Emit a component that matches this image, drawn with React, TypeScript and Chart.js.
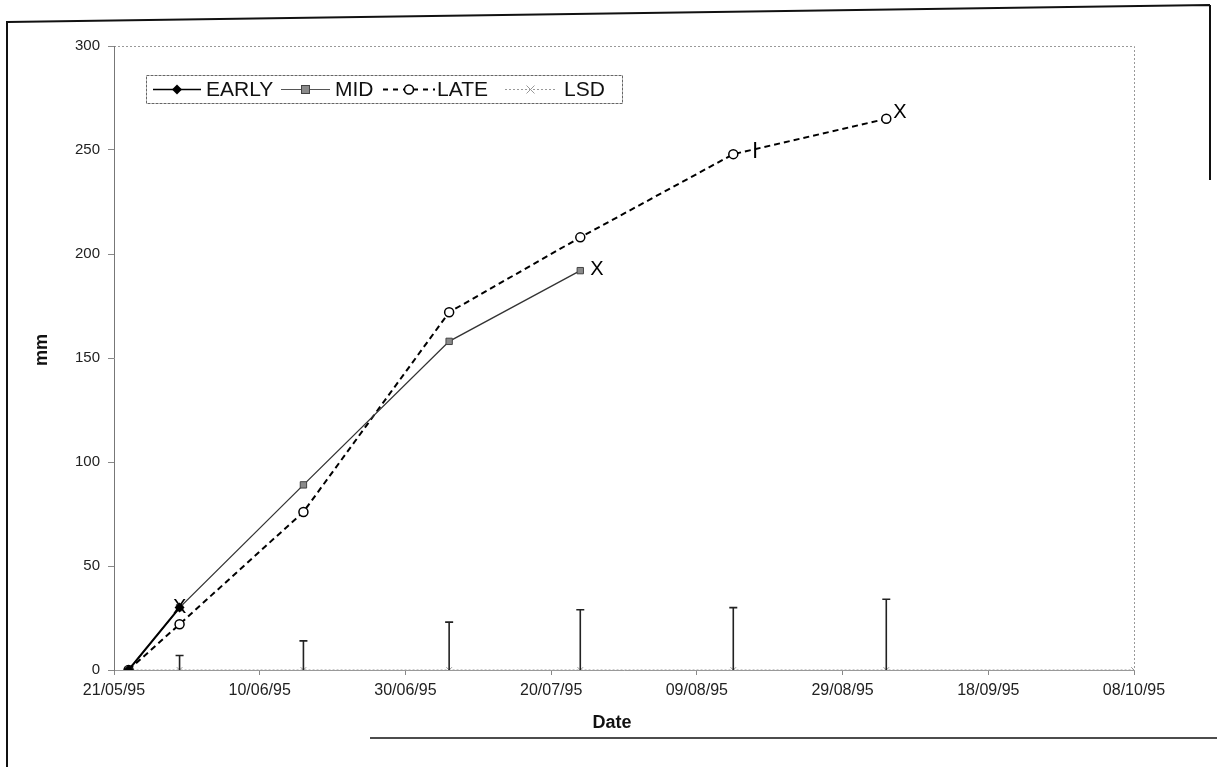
import React, { useEffect, useRef } from "react";
import { Chart, registerables } from "chart.js";
Chart.register(...registerables);

// ---- axis definitions ----
const X_START = "21/05/95";
const X_END = "08/10/95";
const X_STEP_DAYS = 20;
const Y_MIN = 0;
const Y_MAX = 300;
const Y_STEP = 50;
const X_TITLE = "Date";
const Y_TITLE = "mm";

// ---- series ----
const EARLY_DATES = ["23/05/95", "30/05/95"];
const EARLY_VALUES = [0, 30];

const MID_DATES = ["23/05/95", "30/05/95", "16/06/95", "06/07/95", "24/07/95"];
const MID_VALUES = [0, 30, 89, 158, 192];

const LATE_DATES = ["23/05/95", "30/05/95", "16/06/95", "06/07/95", "24/07/95", "14/08/95", "04/09/95"];
const LATE_VALUES = [0, 22, 76, 172, 208, 248, 265];

const LSD_DATES = ["23/05/95", "30/05/95", "16/06/95", "06/07/95", "24/07/95", "14/08/95", "04/09/95", "08/10/95"];
const LSD_VALUES = [0, 0, 0, 0, 0, 0, 0, 0];
const LSD_BARS = [0, 7, 14, 23, 29, 30, 34, 0];

const SERIES_NAMES = ["EARLY", "MID", "LATE", "LSD"];

// end-of-series marks ("X") and the bar mark on LATE
const END_MARK_TEXT = "X";
const END_MARK_SERIES = ["EARLY", "MID", "LATE"];
const LATE_MARK_DATE = "17/08/95";
const LATE_MARK_VALUE = 250;

const FONT = "'Liberation Sans', Arial, Helvetica, sans-serif";

function toDate(s: string) {
  const [d, m, y] = s.split("/").map(Number);
  return Date.UTC(1900 + y, m - 1, d);
}
const BASE = toDate(X_START);
function dayOf(s: string) {
  return Math.round((toDate(s) - BASE) / 86400000);
}
function fmtDay(v: number) {
  const dt = new Date(BASE + v * 86400000);
  const dd = String(dt.getUTCDate()).padStart(2, "0");
  const mm = String(dt.getUTCMonth() + 1).padStart(2, "0");
  const yy = String(dt.getUTCFullYear() % 100).padStart(2, "0");
  return `${dd}/${mm}/${yy}`;
}
function pts(dates: string[], vals: number[]) {
  return dates.map((d, i) => ({ x: dayOf(d), y: vals[i] }));
}

function drawMarker(ctx: CanvasRenderingContext2D, kind: string, x: number, y: number) {
  ctx.save();
  ctx.setLineDash([]);
  if (kind === "EARLY") {
    ctx.fillStyle = "#000";
    ctx.beginPath();
    ctx.moveTo(x, y - 5);
    ctx.lineTo(x + 5, y);
    ctx.lineTo(x, y + 5);
    ctx.lineTo(x - 5, y);
    ctx.closePath();
    ctx.fill();
  } else if (kind === "MID") {
    ctx.fillStyle = "#8a8a8a";
    ctx.strokeStyle = "#444";
    ctx.lineWidth = 1;
    ctx.fillRect(x - 4, y - 4, 8, 8);
    ctx.strokeRect(x - 4, y - 4, 8, 8);
  } else if (kind === "LATE") {
    ctx.fillStyle = "#fff";
    ctx.strokeStyle = "#000";
    ctx.lineWidth = 1.5;
    ctx.beginPath();
    ctx.arc(x, y, 4.5, 0, Math.PI * 2);
    ctx.fill();
    ctx.stroke();
  } else {
    ctx.strokeStyle = "#999";
    ctx.lineWidth = 1;
    ctx.beginPath();
    ctx.moveTo(x - 4, y - 4);
    ctx.lineTo(x + 4, y + 4);
    ctx.moveTo(x + 4, y - 4);
    ctx.lineTo(x - 4, y + 4);
    ctx.stroke();
  }
  ctx.restore();
}

const decor = {
  id: "decor",
  beforeDraw(chart: any) {
    const ctx = chart.ctx as CanvasRenderingContext2D;
    ctx.save();
    ctx.fillStyle = "#fff";
    ctx.fillRect(0, 0, chart.width, chart.height);
    // outer frame (scanned page border)
    ctx.strokeStyle = "#111";
    ctx.lineWidth = 2;
    ctx.beginPath();
    ctx.moveTo(7, 22);
    ctx.lineTo(1210, 5);
    ctx.moveTo(7, 21);
    ctx.lineTo(7, 767);
    ctx.moveTo(1210, 5);
    ctx.lineTo(1210, 180);
    ctx.stroke();
    ctx.lineWidth = 1.5;
    ctx.beginPath();
    ctx.moveTo(370, 738);
    ctx.lineTo(1217, 738);
    ctx.stroke();
    // plot area dotted border top/right
    const a = chart.chartArea;
    ctx.strokeStyle = "#999";
    ctx.lineWidth = 1;
    ctx.setLineDash([2, 2]);
    ctx.beginPath();
    ctx.moveTo(a.left, a.top + 0.5);
    ctx.lineTo(a.right + 0.5, a.top + 0.5);
    ctx.lineTo(a.right + 0.5, a.bottom);
    ctx.stroke();
    ctx.restore();
  },
  afterDatasetsDraw(chart: any) {
    const ctx = chart.ctx as CanvasRenderingContext2D;
    const xs = chart.scales.x;
    const ys = chart.scales.y;
    ctx.save();
    // LSD error bars
    ctx.strokeStyle = "#222";
    ctx.lineWidth = 1.6;
    LSD_DATES.forEach((d, i) => {
      if (!LSD_BARS[i]) return;
      const x = xs.getPixelForValue(dayOf(d));
      const y0 = ys.getPixelForValue(LSD_VALUES[i]);
      const y1 = ys.getPixelForValue(LSD_VALUES[i] + LSD_BARS[i]);
      ctx.beginPath();
      ctx.moveTo(x, y0);
      ctx.lineTo(x, y1);
      ctx.moveTo(x - 4, y1);
      ctx.lineTo(x + 4, y1);
      ctx.stroke();
    });
    // end marks
    ctx.fillStyle = "#000";
    ctx.font = `20px ${FONT}`;
    ctx.textBaseline = "middle";
    const seriesData: Record<string, [string[], number[]]> = {
      EARLY: [EARLY_DATES, EARLY_VALUES],
      MID: [MID_DATES, MID_VALUES],
      LATE: [LATE_DATES, LATE_VALUES],
    };
    END_MARK_SERIES.forEach((s) => {
      const [ds, vs] = seriesData[s];
      const n = ds.length - 1;
      const x = xs.getPixelForValue(dayOf(ds[n]));
      const y = ys.getPixelForValue(vs[n]);
      if (s === "EARLY") {
        ctx.textAlign = "center";
        ctx.fillText(END_MARK_TEXT, x, y);
      } else if (s === "MID") {
        ctx.textAlign = "left";
        ctx.fillText(END_MARK_TEXT, x + 10, y - 1);
      } else {
        ctx.textAlign = "left";
        ctx.fillText(END_MARK_TEXT, x + 7, y - 6);
      }
    });
    // bar mark on LATE
    const mx = xs.getPixelForValue(dayOf(LATE_MARK_DATE));
    const my = ys.getPixelForValue(LATE_MARK_VALUE);
    ctx.strokeStyle = "#000";
    ctx.lineWidth = 2;
    ctx.beginPath();
    ctx.moveTo(mx, my - 8);
    ctx.lineTo(mx, my + 8);
    ctx.stroke();
    ctx.restore();
  },
  afterDraw(chart: any) {
    const ctx = chart.ctx as CanvasRenderingContext2D;
    ctx.save();
    // axis titles
    ctx.fillStyle = "#111";
    ctx.font = `bold 18px ${FONT}`;
    ctx.textAlign = "center";
    ctx.textBaseline = "middle";
    ctx.fillText(X_TITLE, 612, 723);
    ctx.translate(42, 350);
    ctx.rotate(-Math.PI / 2);
    ctx.fillText(Y_TITLE, 0, 0);
    ctx.restore();

    // legend box
    ctx.save();
    const bx = 146, by = 75, bw = 476, bh = 28;
    ctx.strokeStyle = "#666";
    ctx.lineWidth = 1;
    ctx.setLineDash([3, 1]);
    ctx.strokeRect(bx + 0.5, by + 0.5, bw, bh);
    const cy = by + bh / 2 + 0.5;
    const items = [
      { x0: 153, x1: 201, tx: 206 },
      { x0: 281, x1: 330, tx: 335 },
      { x0: 383, x1: 435, tx: 437 },
      { x0: 505, x1: 556, tx: 564 },
    ];
    SERIES_NAMES.forEach((name, i) => {
      const it = items[i];
      ctx.beginPath();
      if (name === "EARLY") {
        ctx.setLineDash([]);
        ctx.strokeStyle = "#000";
        ctx.lineWidth = 1.5;
      } else if (name === "MID") {
        ctx.setLineDash([]);
        ctx.strokeStyle = "#555";
        ctx.lineWidth = 1;
      } else if (name === "LATE") {
        ctx.setLineDash([5, 5]);
        ctx.strokeStyle = "#000";
        ctx.lineWidth = 2;
      } else {
        ctx.setLineDash([2, 2]);
        ctx.strokeStyle = "#999";
        ctx.lineWidth = 1;
      }
      ctx.moveTo(it.x0, cy);
      ctx.lineTo(it.x1, cy);
      ctx.stroke();
      drawMarker(ctx, name, (it.x0 + it.x1) / 2, cy);
      ctx.setLineDash([]);
      ctx.fillStyle = "#111";
      ctx.font = `21px ${FONT}`;
      ctx.textAlign = "left";
      ctx.textBaseline = "middle";
      ctx.fillText(name, it.tx, cy + 1);
    });
    ctx.restore();
  },
};

export default function App() {
  const ref = useRef<HTMLCanvasElement | null>(null);
  useEffect(() => {
    if (!ref.current) return;
    const chart = new Chart(ref.current, {
      type: "line",
      data: {
        datasets: [
          {
            label: SERIES_NAMES[0],
            data: pts(EARLY_DATES, EARLY_VALUES),
            borderColor: "#000",
            backgroundColor: "#000",
            borderWidth: 2,
            pointStyle: "rectRot",
            pointRadius: 5,
            pointBorderWidth: 0,
          },
          {
            label: SERIES_NAMES[1],
            data: pts(MID_DATES, MID_VALUES),
            borderColor: "#333",
            backgroundColor: "#8a8a8a",
            pointBorderColor: "#444",
            borderWidth: 1.3,
            pointStyle: "rect",
            pointRadius: 4.5,
            pointBorderWidth: 1,
          },
          {
            label: SERIES_NAMES[2],
            data: pts(LATE_DATES, LATE_VALUES),
            borderColor: "#000",
            backgroundColor: "#fff",
            borderWidth: 2,
            borderDash: [6, 4],
            pointStyle: "circle",
            pointRadius: 4.5,
            pointBorderWidth: 1.5,
          },
          {
            label: SERIES_NAMES[3],
            data: pts(LSD_DATES, LSD_VALUES),
            borderColor: "#999",
            backgroundColor: "#999",
            borderWidth: 1,
            borderDash: [2, 2],
            pointStyle: "crossRot",
            pointRadius: 4,
            pointBorderWidth: 1,
          },
        ],
      },
      options: {
        responsive: false,
        animation: false,
        devicePixelRatio: 1,
        layout: { padding: { top: 46, right: 83, left: 0, bottom: 0 } },
        plugins: {
          legend: { display: false },
          tooltip: { enabled: false },
          title: { display: false },
        },
        scales: {
          x: {
            type: "linear",
            min: dayOf(X_START),
            max: dayOf(X_END),
            afterFit: (s: any) => {
              s.height = 97;
            },
            ticks: {
              stepSize: X_STEP_DAYS,
              callback: (v: any) => fmtDay(Number(v)),
              color: "#222",
              font: { family: FONT, size: 16 },
              padding: 6,
              maxRotation: 0,
              autoSkip: false,
            },
            grid: {
              display: true,
              drawOnChartArea: false,
              drawTicks: true,
              tickLength: 5,
              color: "#888",
            },
            border: { display: true, color: "#999", width: 1, dash: [2, 2] },
          },
          y: {
            type: "linear",
            min: Y_MIN,
            max: Y_MAX,
            afterFit: (s: any) => {
              s.width = 114;
            },
            ticks: {
              stepSize: Y_STEP,
              color: "#222",
              font: { family: FONT, size: 15 },
              padding: 8,
            },
            grid: {
              display: true,
              drawOnChartArea: false,
              drawTicks: true,
              tickLength: 6,
              color: "#888",
            },
            border: { display: true, color: "#777", width: 1 },
          },
        },
      },
      plugins: [decor],
    });
    return () => chart.destroy();
  }, []);
  return (
    <canvas
      ref={ref}
      width={1217}
      height={767}
      style={{ position: "fixed", left: 0, top: 0, width: 1217, height: 767 }}
    />
  );
}
